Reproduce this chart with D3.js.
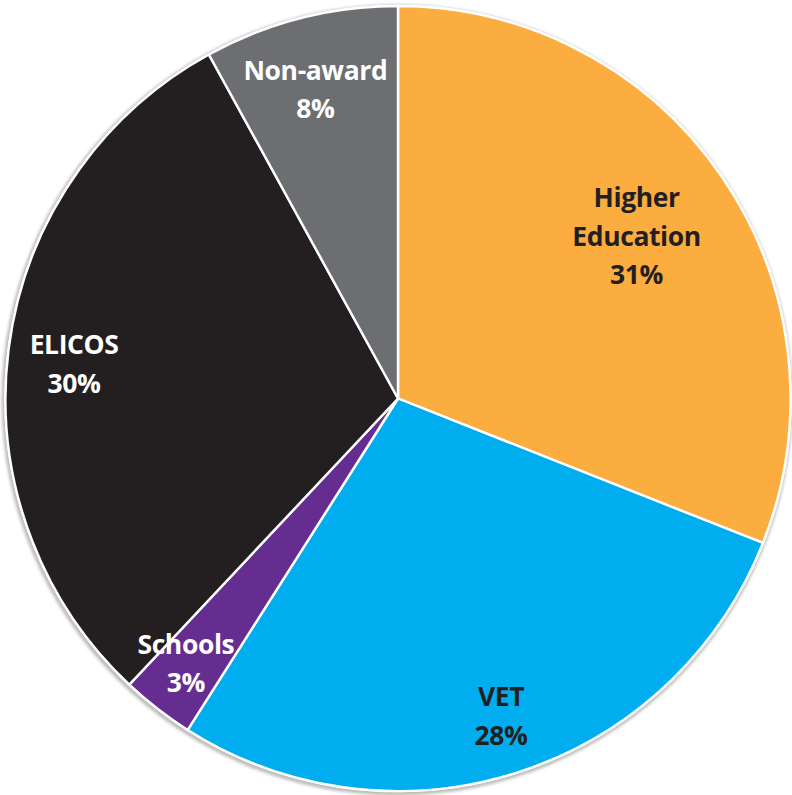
<!DOCTYPE html>
<html>
<head>
<meta charset="utf-8">
<script src="https://cdn.jsdelivr.net/npm/d3@7"></script>
<style>
  html, body { margin: 0; padding: 0; background: #ffffff; }
  svg { display: block; }
</style>
</head>
<body>
<svg id="chart" width="792" height="795"></svg>
<script>
// Sector shares of enrolments (percent)
const categories = ["Higher Education", "VET", "Schools", "ELICOS", "Non-award"];
const values = [31, 28, 3, 30, 8];
const labelLines = [["Higher", "Education"], ["VET"], ["Schools"], ["ELICOS"], ["Non-award"]];
const sliceColors = ["#FBAD40", "#00AEEF", "#662D91", "#231F20", "#6D6E71"];
const textColors = ["#231F20", "#231F20", "#ffffff", "#ffffff", "#ffffff"];

// Radial distance (fraction of radius) and angular nudge (radians) for each label
const labelRadius = [0.735, 0.85, 0.865, 0.83, 0.815];
const labelAngleShift = [0, 0, 0.015, -0.02, -0.01];

const width = 792, height = 795;
const cx = 398, cy = 398.5, radius = 392.5;

const svg = d3.select("#chart");
const defs = svg.append("defs");
const shadow = defs.append("filter").attr("id", "soft").attr("x", "-5%").attr("y", "-5%").attr("width", "110%").attr("height", "110%");
shadow.append("feGaussianBlur").attr("stdDeviation", 1.5);

const g = svg.append("g").attr("transform", `translate(${cx},${cy})`);

// faint halo behind the pie
g.append("circle")
  .attr("cx", -1).attr("cy", 1.5)
  .attr("r", radius + 3)
  .attr("fill", "#bdbdbd")
  .attr("filter", "url(#soft)");
g.append("circle")
  .attr("r", radius + 1.2)
  .attr("fill", "#ffffff");

const pie = d3.pie().sort(null).value(d => d.value);
const data = categories.map((c, i) => ({ category: c, value: values[i], idx: i }));
const arcs = pie(data);

const arc = d3.arc().innerRadius(0).outerRadius(radius);

g.selectAll("path.slice")
  .data(arcs)
  .join("path")
  .attr("class", "slice")
  .attr("d", arc)
  .attr("fill", d => sliceColors[d.data.idx])
  .attr("stroke", "#ffffff")
  .attr("stroke-width", 2.4)
  .attr("stroke-linejoin", "miter");

const fontSize = 26.5;
const lineH = 38.5;

g.selectAll("text.lbl")
  .data(arcs)
  .join("text")
  .attr("class", "lbl")
  .attr("text-anchor", "middle")
  .attr("font-family", "'Open Sans', Lato, sans-serif")
  .attr("font-weight", "bold")
  .attr("font-size", fontSize)
  .attr("letter-spacing", "-0.4")
  .attr("fill", d => textColors[d.data.idx])
  .each(function (d) {
    const i = d.data.idx;
    const a = (d.startAngle + d.endAngle) / 2 + labelAngleShift[i];
    const r = radius * labelRadius[i];
    const x = r * Math.sin(a);
    const y = -r * Math.cos(a);
    const lines = labelLines[i].concat([d.data.value + "%"]);
    const top = y - (lines.length - 1) * lineH / 2;
    const t = d3.select(this);
    lines.forEach((ln, k) => {
      t.append("tspan")
        .attr("x", x)
        .attr("y", top + k * lineH)
        .attr("dy", "0.36em")
        .text(ln);
    });
  });
</script>
</body>
</html>
